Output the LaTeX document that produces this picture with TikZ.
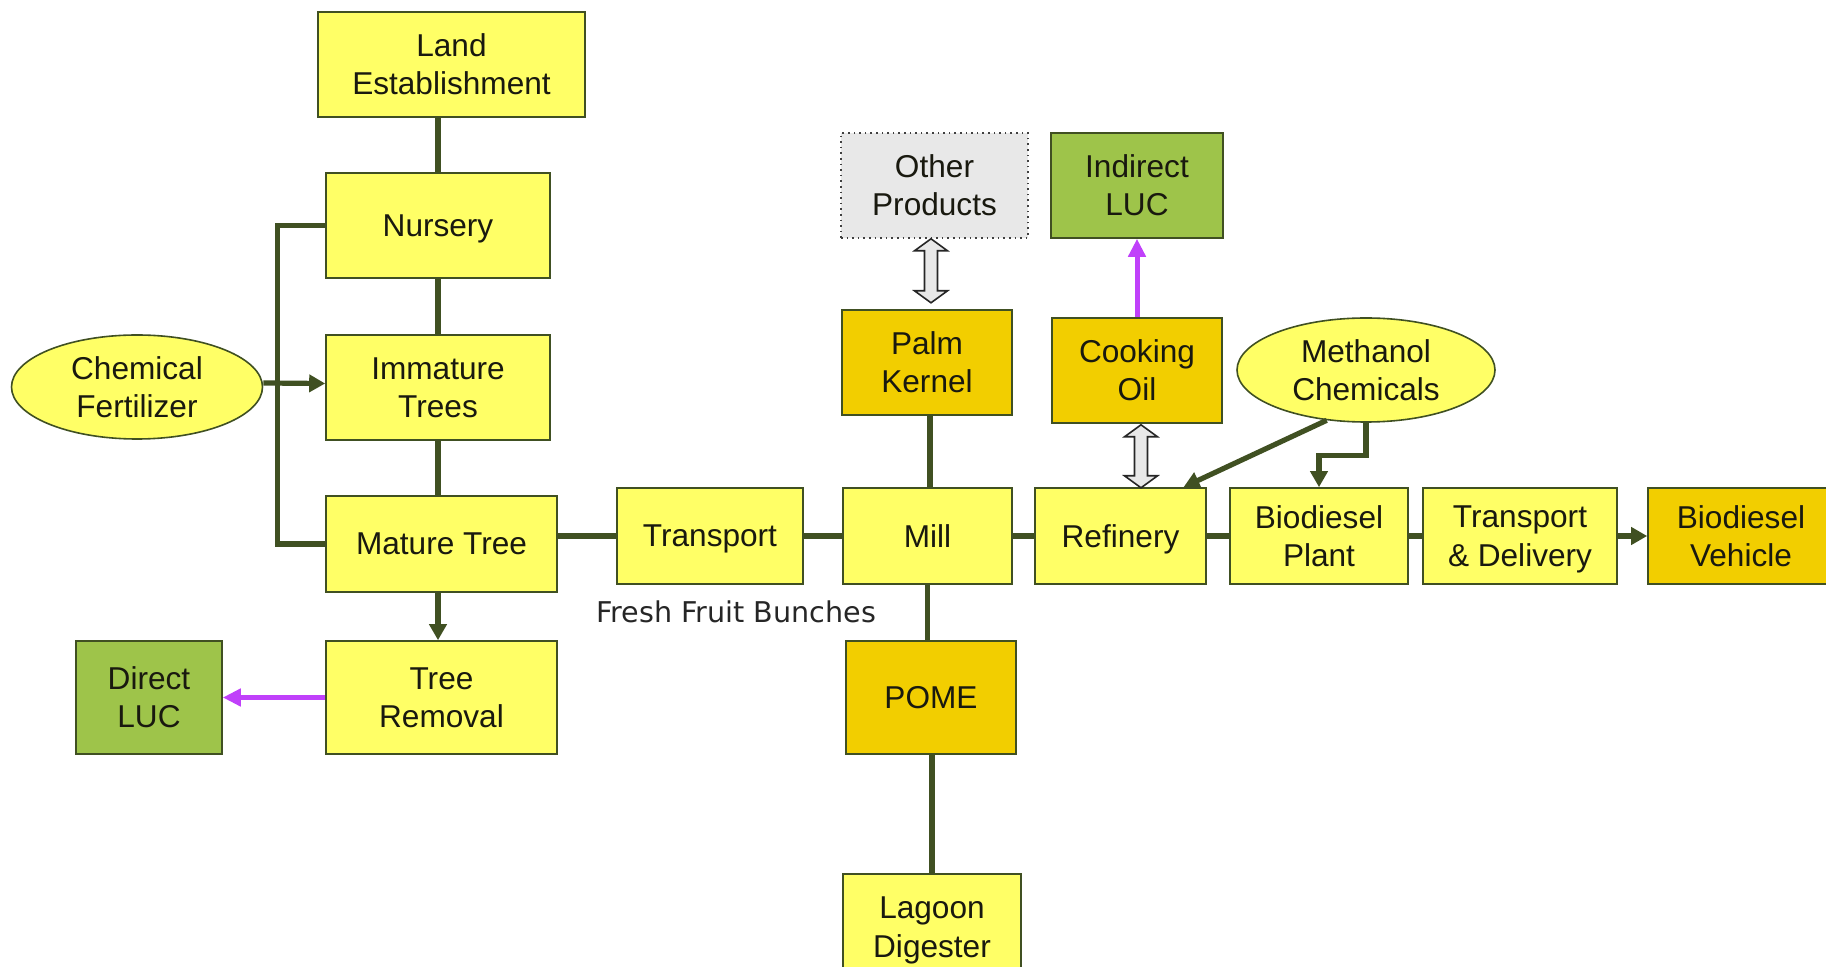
\documentclass[tikz,border=0pt]{standalone}
\usepackage{fontspec}
\setmainfont{Liberation Sans}
\newfontfamily\labelfont{DejaVu Sans}
\usepackage{xcolor}
\usetikzlibrary{shapes.geometric,arrows.meta,calc}
\definecolor{paleyellow}{RGB}{255,255,102}
\definecolor{gold}{RGB}{242,206,0}
\definecolor{leaf}{RGB}{158,196,74}
\definecolor{mist}{RGB}{232,232,232}
\definecolor{stemgreen}{RGB}{64,80,34}
\definecolor{lucviolet}{RGB}{192,64,250}
\definecolor{ink}{RGB}{25,25,15}
\tikzset{
	stage/.style   = {shape=rectangle, draw=stemgreen, line width=0.8pt,
		fill=paleyellow, align=center, inner sep=0pt, text=ink,
		font=\fontsize{15.8}{19.2}\selectfont},
	product/.style = {stage, fill=gold},
	luc/.style     = {stage, fill=leaf},
	spare/.style   = {stage, fill=mist, draw=black!75, dotted},
	supply/.style  = {stage, shape=ellipse},
	note/.style    = {font=\labelfont\fontsize{14.3}{16}\selectfont, text=black!85},
	flow/.style    = {draw=stemgreen, line width=2.6pt},
	feed/.style    = {flow, -{Triangle[length=8pt,width=8.5pt]}},
	change/.style  = {draw=lucviolet, line width=2.5pt, -{Triangle[length=9pt,width=8.5pt]}},
	trade/.style   = {draw=black!85, fill=mist, line width=0.8pt, line join=miter}
}

\begin{document}
\begin{tikzpicture}
[
x = 0.5pt, y = -0.5pt
]
\useasboundingbox (0,0) rectangle (1826,967);

% plantation
\node [stage, minimum width=133.5pt, minimum height=52.5pt] (land) at (451.5,64.5) {Land\\Establishment};
\node [stage, minimum width=112pt, minimum height=52.5pt, text depth=0pt] (nursery) at (438,225.5) {Nursery};
\node [stage, minimum width=112pt, minimum height=52.5pt] (immature) at (438,387.5) {Immature\\Trees};
\node [stage, minimum width=115.5pt, minimum height=48pt] (mature) at (441.5,544) {Mature Tree};
\node [stage, minimum width=115.5pt, minimum height=56.5pt] (removal) at (441.5,697.5) {Tree\\Removal};
\node [luc, minimum width=73pt, minimum height=56.5pt] (direct) at (149,697.5) {Direct\\LUC};
\node [supply, minimum width=125.5pt, minimum height=52pt] (fertilizer) at (137,387) {Chemical\\Fertilizer};

% mill
\node [stage, minimum width=93pt, minimum height=48pt, text depth=0pt] (transport) at (710,536) {Transport};
\node [note] (ffb) at (736,612) {Fresh Fruit Bunches};
\node [stage, minimum width=84.5pt, minimum height=48pt] (mill) at (927.5,536) {Mill};
\node [product, minimum width=85pt, minimum height=52.5pt] (kernel) at (927,362.5) {Palm\\Kernel};
\node [spare, minimum width=93.5pt, minimum height=52.5pt] (other) at (934.5,185.5) {Other\\Products};
\node [product, minimum width=85pt, minimum height=56.5pt] (pome) at (931,697.5) {POME};
\node [stage, minimum width=89pt, minimum height=56.5pt] (lagoon) at (932,930.5) {Lagoon\\Digester};

% refinery and fuel
\node [stage, minimum width=85.5pt, minimum height=48pt, text depth=0pt] (refinery) at (1120.5,536) {Refinery};
\node [product, minimum width=85pt, minimum height=52.5pt] (cooking) at (1137,370.5) {Cooking\\Oil};
\node [luc, minimum width=86pt, minimum height=52.5pt] (indirect) at (1137,185.5) {Indirect\\LUC};
\node [supply, minimum width=129pt, minimum height=52pt] (methanol) at (1366,370) {Methanol\\Chemicals};
\node [stage, minimum width=89pt, minimum height=48pt] (plant) at (1319,536) {Biodiesel\\Plant};
\node [stage, minimum width=97pt, minimum height=48pt, text depth=0pt] (delivery) at (1520,536) {Transport\\\& Delivery};
\node [product, minimum width=93pt, minimum height=48pt] (vehicle) at (1741,536) {Biodiesel\\Vehicle};

% connectors
\draw [flow] (nursery.north) -- (nursery.north |- land.south);
\draw [flow] (nursery.south) -- (immature.north);
\draw [flow] (immature.south) -- (immature.south |- mature.north);
\draw [flow] (nursery.west) -- ++(-48,0) |- (mature.west);
\draw [feed] ([yshift=2pt]fertilizer.east) -- ([yshift=2pt]immature.west);
\draw [feed] (nursery.south |- mature.south) -- (nursery.south |- removal.north);
\draw [change] (removal.west) -- (direct.east);
\draw [flow] (transport.west -| mature.east) -- (transport.west);
\draw [flow] (transport.east) -- (mill.west);
\draw [flow] (mill.east) -- (refinery.west);
\draw [flow] (refinery.east) -- (plant.west);
\draw [flow] (plant.east) -- (delivery.west);
\draw [feed] (delivery.east) -- (vehicle.west);
\draw [flow] ([xshift=1.5pt]kernel.south) -- ([xshift=1.5pt]kernel.south |- mill.north);
\draw [flow] (mill.south) -- (mill.south |- pome.north);
\draw [flow] (pome.south -| lagoon.north) -- (lagoon.north);
\draw [change] (cooking.north) -- (indirect.south);
\draw [feed] (methanol.232) -- ($(refinery.north)!0.73!(refinery.north east)$);
\draw [feed] (methanol.south) -- ++(0,33) -| (plant.north);
\draw [trade, shift={(other.south)}] (-3.5,0) -- (13,12) -- (3,12) -- (3,52) -- (13,52)
	-- (-3.5,64) -- (-20,52) -- (-10,52) -- (-10,12) -- (-20,12) -- cycle;
\draw [trade, shift={(cooking.south)}] (4,1) -- (20.5,13) -- (10.5,13) -- (10.5,52) -- (20.5,52)
	-- (4,64) -- (-12.5,52) -- (-2.5,52) -- (-2.5,13) -- (-12.5,13) -- cycle;
\end{tikzpicture}
\end{document}
